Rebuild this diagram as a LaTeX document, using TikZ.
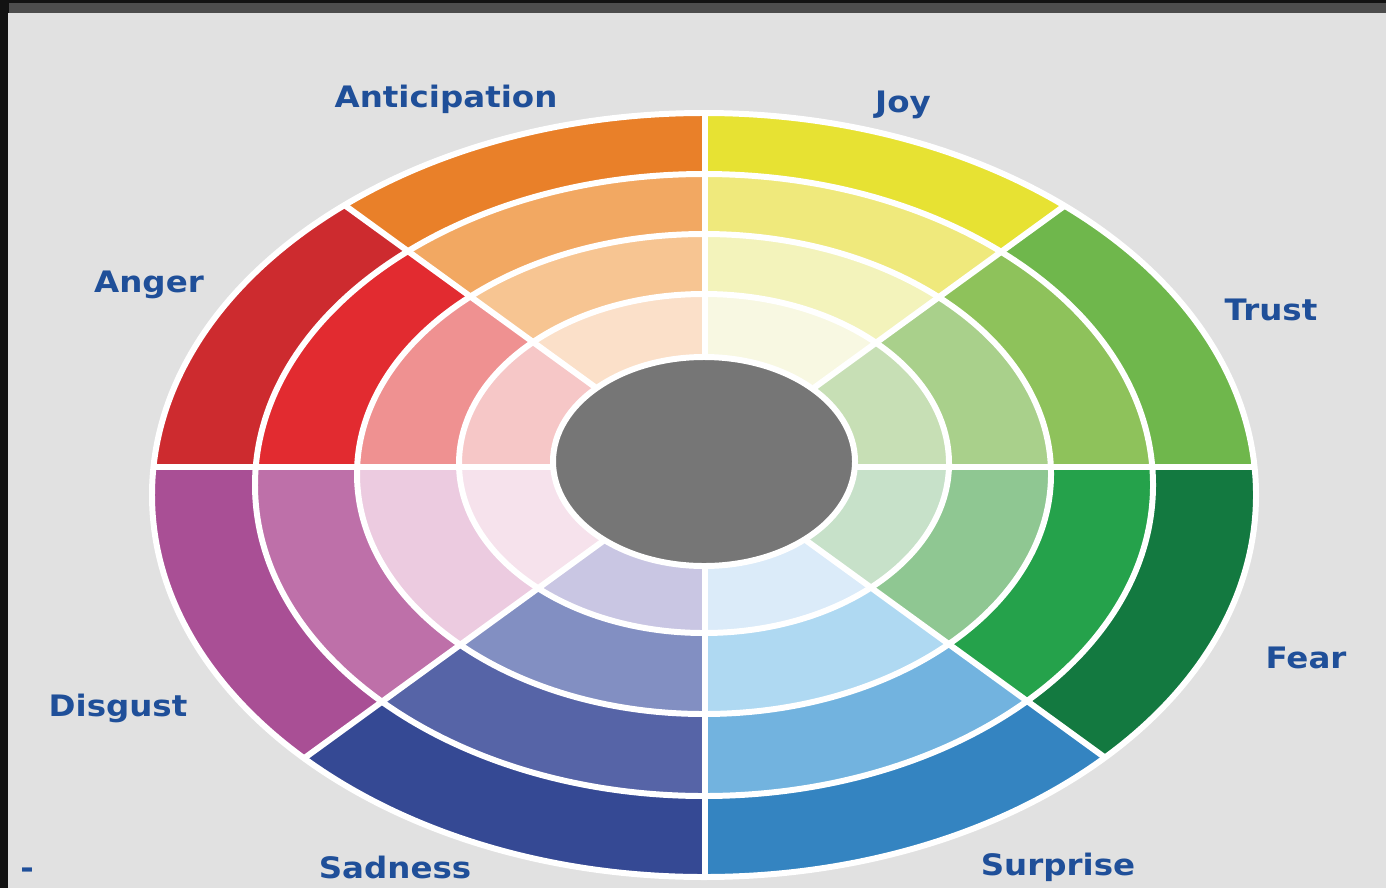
\documentclass[tikz,border=0pt]{standalone}
\usepackage{xcolor}
\usepackage{tikz}
\usepackage{fontspec}
\newfontfamily\wheelfont{DejaVu Sans}[FakeStretch=1.1]

\definecolor{frame}{HTML}{121212}
\definecolor{framestrip}{HTML}{4D4D4D}
\definecolor{paper}{HTML}{E1E1E1}
\definecolor{hub}{HTML}{767676}
\definecolor{labelblue}{HTML}{1F4F99}

% four shades per emotion, 4 = outer ring
\definecolor{joy4}{HTML}{E7E233}\definecolor{joy3}{HTML}{EFE97C}
\definecolor{joy2}{HTML}{F3F3BB}\definecolor{joy1}{HTML}{F8F8E2}
\definecolor{trust4}{HTML}{6FB74C}\definecolor{trust3}{HTML}{8EC25B}
\definecolor{trust2}{HTML}{A9D08B}\definecolor{trust1}{HTML}{C7DFB5}
\definecolor{fear4}{HTML}{137940}\definecolor{fear3}{HTML}{25A24B}
\definecolor{fear2}{HTML}{8FC792}\definecolor{fear1}{HTML}{C7E1C9}
\definecolor{surprise4}{HTML}{3484C1}\definecolor{surprise3}{HTML}{72B3DF}
\definecolor{surprise2}{HTML}{AFD9F2}\definecolor{surprise1}{HTML}{DBEBF9}
\definecolor{sadness4}{HTML}{354994}\definecolor{sadness3}{HTML}{5664A7}
\definecolor{sadness2}{HTML}{828FC2}\definecolor{sadness1}{HTML}{C9C6E3}
\definecolor{disgust4}{HTML}{A94F95}\definecolor{disgust3}{HTML}{BE70A9}
\definecolor{disgust2}{HTML}{ECCBE0}\definecolor{disgust1}{HTML}{F6E2EC}
\definecolor{anger4}{HTML}{CD2B2F}\definecolor{anger3}{HTML}{E22B30}
\definecolor{anger2}{HTML}{EF9191}\definecolor{anger1}{HTML}{F6C7C7}
\definecolor{anticipation4}{HTML}{E98029}\definecolor{anticipation3}{HTML}{F2A862}
\definecolor{anticipation2}{HTML}{F7C592}\definecolor{anticipation1}{HTML}{FBE0C9}

\begin{document}
\begin{tikzpicture}[x=0.01cm,y=-0.01cm]
            \tikzset{gap/.style = {draw=white, line width=1.7pt}}
            \tikzset{emotion/.style = {text=labelblue, anchor=base,
                font=\wheelfont\bfseries\fontsize{8.4}{10}\selectfont}}

            % page
            \fill[frame] (0,0) rectangle (1386,888);
            \fill[framestrip] (9,3) rectangle (1386,13);
            \fill[paper] (8,13) rectangle (1386,888);
            \useasboundingbox (0,0) rectangle (1386,888);

            % sectors, outer ring first
            \foreach \name/\a/\b in {joy/-90/-36, trust/-36/0, fear/0/36, surprise/36/90,
                sadness/90/144, disgust/144/180, anger/180/216, anticipation/216/270}
            {
              \begin{scope}
                \clip (705,467) -- +(\a:900) -- +({(\a+\b)/2}:900) -- +(\b:900) -- cycle;
                \foreach \k/\cy/\rx/\ry in {4/495/552/382, 3/485/449/311, 2/474/347/240, 1/463.5/245/169.5}
                  {\fill[\name\k] (704,\cy) ellipse [x radius=\rx, y radius=\ry];}
              \end{scope}
            }

            % white separators
            \begin{scope}
              \clip (704,495) ellipse [x radius=552, y radius=382];
              \foreach \a in {-90,-36,0,36,90,144,180,216}
                {\draw[gap] (705,467) -- +(\a:900);}
            \end{scope}
            \foreach \cy/\rx/\ry in {495/552/382, 485/449/311, 474/347/240, 463.5/245/169.5}
              {\draw[gap] (704,\cy) ellipse [x radius=\rx, y radius=\ry];}

            % centre
            \filldraw[gap, fill=hub] (704,461.5) ellipse [x radius=151, y radius=104.5];

            % labels
            \node[emotion] (anticipation) at (446,107) {Anticipation};
            \node[emotion] (joy) at (903,113) {Joy};
            \node[emotion] (trust) at (1271,320) {Trust};
            \node[emotion] (fear) at (1306,668) {Fear};
            \node[emotion] (surprise) at (1058,875) {Surprise};
            \node[emotion] (sadness) at (395,878) {Sadness};
            \node[emotion] (disgust) at (118,716) {Disgust};
            \node[emotion] (anger) at (149,292) {Anger};
            \node[emotion] (dash) at (27,878) {-};

          \end{tikzpicture}
\end{document}
